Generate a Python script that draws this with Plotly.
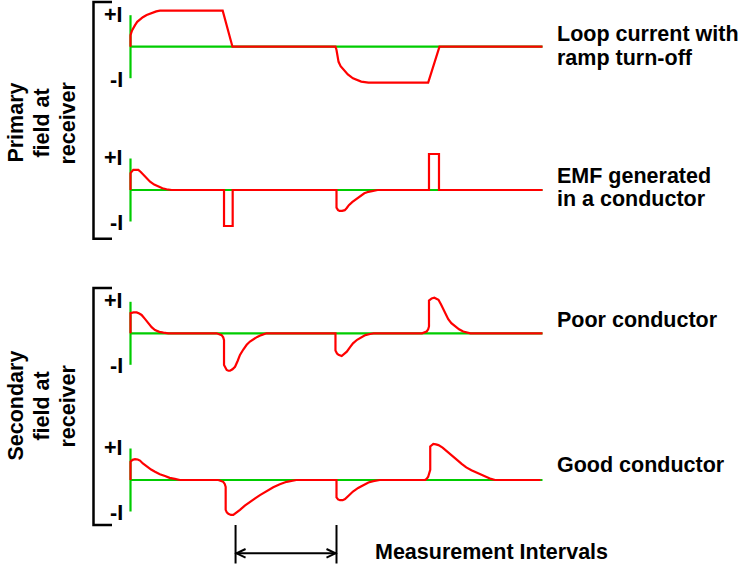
import plotly.graph_objects as go

W, H = 742, 572

# ---------------- data (time in units of the half-period, amplitude in units of I) -------------
LOOP_T = [0, 0, 0.015, 0.03, 0.044, 0.065, 0.092, 0.12, 0.157, 0.19, 0.22, 0.25, 0.286, 0.895, 0.99,
          1.99, 2.0, 2.01, 2.02, 2.04, 2.07, 2.11, 2.16, 2.2, 2.24, 2.31, 2.89, 3.0, 4.0]
LOOP_V = [0, 0.32, 0.45, 0.54, 0.60, 0.69, 0.76, 0.82, 0.88, 0.92, 0.95, 0.98, 1.0, 1.0, 0,
          0, -0.09, -0.28, -0.42, -0.54, -0.65, -0.77, -0.88, -0.93, -0.97, -1.0, -1.0, 0, 0]

EMF_T = [0, 0, 0.027, 0.076, 0.10, 0.124, 0.155, 0.19, 0.23, 0.27, 0.31, 0.35, 0.40,
         0.908, 0.908, 0.992, 0.992,
         2.0, 2.0, 2.015, 2.03, 2.055, 2.08, 2.10, 2.12, 2.155, 2.19, 2.23, 2.27, 2.31, 2.35, 2.40,
         2.898, 2.898, 2.995, 2.995, 4.0]
EMF_V = [0, 0.47, 0.56, 0.56, 0.50, 0.42, 0.32, 0.23, 0.15, 0.09, 0.05, 0.02, 0,
         0, -1, -1, 0,
         0, -0.49, -0.56, -0.58, -0.58, -0.56, -0.50, -0.42, -0.33, -0.25, -0.16, -0.09, -0.05, -0.02, 0,
         0, 1, 1, 0, 0]

POOR_T = [0, 0, 0.03, 0.06, 0.085, 0.108, 0.14, 0.173, 0.205, 0.238, 0.28, 0.32, 0.367,
          0.836, 0.865, 0.885, 0.90, 0.908, 0.908, 0.92, 0.934, 0.95, 0.966, 0.99, 1.015, 1.04, 1.063,
          1.095, 1.128, 1.16, 1.19, 1.23, 1.27, 1.32,
          1.99, 1.99, 2.005, 2.02, 2.05, 2.075, 2.10, 2.13, 2.16, 2.20, 2.24, 2.28, 2.325, 2.36,
          2.83, 2.855, 2.875, 2.89, 2.898, 2.898, 2.91, 2.924, 2.95, 2.97, 2.99, 3.015, 3.04, 3.06,
          3.085, 3.115, 3.15, 3.19, 3.23, 3.30, 4.0]
POOR_V = [0, 0.56, 0.58, 0.58, 0.55, 0.51, 0.40, 0.28, 0.17, 0.09, 0.04, 0.02, 0,
          0, -0.02, -0.05, -0.11, -0.19, -0.88, -0.97, -1.02, -1.04, -1.04, -1.0, -0.93, -0.77, -0.60,
          -0.45, -0.32, -0.23, -0.17, -0.10, -0.05, 0,
          0, -0.48, -0.56, -0.60, -0.63, -0.58, -0.51, -0.39, -0.28, -0.18, -0.11, -0.05, -0.02, 0,
          0, 0.02, 0.05, 0.11, 0.19, 0.91, 0.95, 0.97, 0.99, 0.97, 0.93, 0.80, 0.65, 0.52,
          0.39, 0.28, 0.19, 0.11, 0.05, 0, 0]

GOOD_T = [0, 0, 0.02, 0.044, 0.07, 0.092, 0.12, 0.157, 0.20, 0.238, 0.285, 0.335, 0.38, 0.43, 0.48,
          0.853, 0.88, 0.90, 0.915, 0.924, 0.924, 0.935, 0.95, 0.975, 0.998, 1.03, 1.063, 1.11, 1.16,
          1.21, 1.257, 1.32, 1.386, 1.45, 1.516, 1.61,
          2.0, 2.0, 2.015, 2.034, 2.06, 2.083, 2.12, 2.16, 2.21, 2.26, 2.31, 2.357, 2.42,
          2.86, 2.875, 2.89, 2.91, 2.91, 2.925, 2.94, 2.965, 2.99, 3.03, 3.07, 3.12, 3.17, 3.215,
          3.26, 3.31, 3.36, 3.41, 3.46, 3.50, 3.54, 3.98]
GOOD_V = [0, 0.51, 0.56, 0.58, 0.57, 0.54, 0.46, 0.37, 0.29, 0.23, 0.16, 0.11, 0.06, 0.03, 0,
          0, -0.02, -0.05, -0.11, -0.19, -0.83, -0.90, -0.94, -0.97, -0.97, -0.91, -0.83, -0.71, -0.60,
          -0.51, -0.42, -0.31, -0.20, -0.12, -0.05, 0,
          0, -0.48, -0.54, -0.56, -0.56, -0.53, -0.43, -0.32, -0.22, -0.14, -0.07, -0.03, 0,
          0, 0.03, 0.09, 0.28, 0.93, 0.98, 1.0, 0.99, 0.97, 0.90, 0.81, 0.68, 0.56, 0.45,
          0.35, 0.27, 0.21, 0.13, 0.07, 0.03, 0, 0]

PANEL_T = [LOOP_T, EMF_T, POOR_T, GOOD_T]
PANEL_V = [LOOP_V, EMF_V, POOR_V, GOOD_V]
PANEL_LABELS = [["Loop current with", "ramp turn-off"],
                ["EMF generated", "in a conductor"],
                ["Poor conductor"],
                ["Good conductor"]]
GROUP_LABELS = [["Primary", "field at", "receiver"],
                ["Secondary", "field at", "receiver"]]
LEVEL_LABELS = ["+I", "-I"]
T_END = 4.0
MEAS_INTERVAL = [1.02, 2.0]
MEAS_LABEL = "Measurement Intervals"

# ---------------- layout geometry (pixels) ----------------
X0_PX, T_PX = 130.5, 103.0          # pixel of t=0, pixels per time unit
AMP_PX = 36.0                        # pixels per unit amplitude
ZERO_PX = [46.7, 190.0, 333.3, 480.0]
LABEL_Y = [[34, 58], [176, 199], [320], [465]]
GROUP_Y = [123, 406]
GROUP_X = [15.6, 41.6, 67.6]
BRACKETS = [(2, 238.7), (288, 525)]
RED = "rgb(255,0,0)"
GREEN = "rgb(0,204,0)"
FONT = "Liberation Sans, Arial, sans-serif"
FS = 21.5


def px(x):
    return x / W


def py(y):
    return 1 - y / H


fig = go.Figure()
yaxes = ["y", "y2", "y3", "y4"]
for i, (tt, vv) in enumerate(zip(PANEL_T, PANEL_V)):
    ya = yaxes[i]
    fig.add_trace(go.Scatter(x=[0, 0, None, 0, T_END], y=[-0.875, 0.875, None, 0, 0],
                             mode="lines", line=dict(color=GREEN, width=2.2),
                             yaxis=ya, hoverinfo="skip", showlegend=False))
    fig.add_trace(go.Scatter(x=tt, y=vv, mode="lines", line=dict(color=RED, width=2.2),
                             yaxis=ya, showlegend=False))

layout_axes = {}
for i, z in enumerate(ZERO_PX):
    hi = z / AMP_PX
    lo = (z - H) / AMP_PX
    key = "yaxis" if i == 0 else f"yaxis{i + 1}"
    ax = dict(range=[lo, hi], domain=[0, 1], visible=False, fixedrange=True)
    if i > 0:
        ax["overlaying"] = "y"
    layout_axes[key] = ax

annotations = []
# +I / -I level labels
for z in ZERO_PX:
    for lab, yy in zip(LEVEL_LABELS, [z - 32, z + 33]):
        annotations.append(dict(x=px(124.5), y=py(yy), xref="paper", yref="paper", text=f"<b>{lab}</b>",
                                showarrow=False, xanchor="right", yanchor="middle",
                                font=dict(family=FONT, size=FS, color="black")))
# right-hand labels
for lines, ys in zip(PANEL_LABELS, LABEL_Y):
    for txt, yy in zip(lines, ys):
        annotations.append(dict(x=px(555), y=py(yy), xref="paper", yref="paper", text=f"<b>{txt}</b>",
                                showarrow=False, xanchor="left", yanchor="middle",
                                font=dict(family=FONT, size=FS, color="black")))
# rotated group labels
for lines, yc in zip(GROUP_LABELS, GROUP_Y):
    for txt, xc in zip(lines, GROUP_X):
        annotations.append(dict(x=px(xc), y=py(yc), xref="paper", yref="paper", text=f"<b>{txt}</b>",
                                showarrow=False, xanchor="center", yanchor="middle", textangle=-90,
                                font=dict(family=FONT, size=FS, color="black")))
# measurement label
annotations.append(dict(x=px(373), y=py(552), xref="paper", yref="paper", text=f"<b>{MEAS_LABEL}</b>",
                        showarrow=False, xanchor="left", yanchor="middle",
                        font=dict(family=FONT, size=FS, color="black")))

shapes = []
for top, bot in BRACKETS:
    path = (f"M {px(112)},{py(top)} L {px(93.5)},{py(top)} L {px(93.5)},{py(bot)} L {px(112)},{py(bot)}")
    shapes.append(dict(type="path", path=path, xref="paper", yref="paper",
                       line=dict(color="black", width=2.5)))
# measurement interval marks
for t in MEAS_INTERVAL:
    shapes.append(dict(type="line", x0=t, x1=t, y0=py(525), y1=py(563.5), xref="x", yref="paper",
                       line=dict(color="black", width=2)))
shapes.append(dict(type="line", x0=MEAS_INTERVAL[0], x1=MEAS_INTERVAL[1], y0=py(553.3), y1=py(553.3),
                   xref="x", yref="paper", line=dict(color="black", width=2)))
xl = X0_PX + T_PX * MEAS_INTERVAL[0] + 1
xr = X0_PX + T_PX * MEAS_INTERVAL[1] - 1
for tip, back in [(xl, xl + 9), (xr, xr - 9)]:
    path = (f"M {px(back)},{py(549)} L {px(tip)},{py(553.3)} L {px(back)},{py(557.6)}")
    shapes.append(dict(type="path", path=path, xref="paper", yref="paper",
                       line=dict(color="black", width=2)))

fig.update_layout(
    width=W, height=H, margin=dict(l=0, r=0, t=0, b=0),
    paper_bgcolor="white", plot_bgcolor="white",
    xaxis=dict(range=[-X0_PX / T_PX, (W - X0_PX) / T_PX], domain=[0, 1], visible=False, fixedrange=True),
    annotations=annotations, shapes=shapes, showlegend=False,
    **layout_axes,
)

fig.write_html("out.html")
